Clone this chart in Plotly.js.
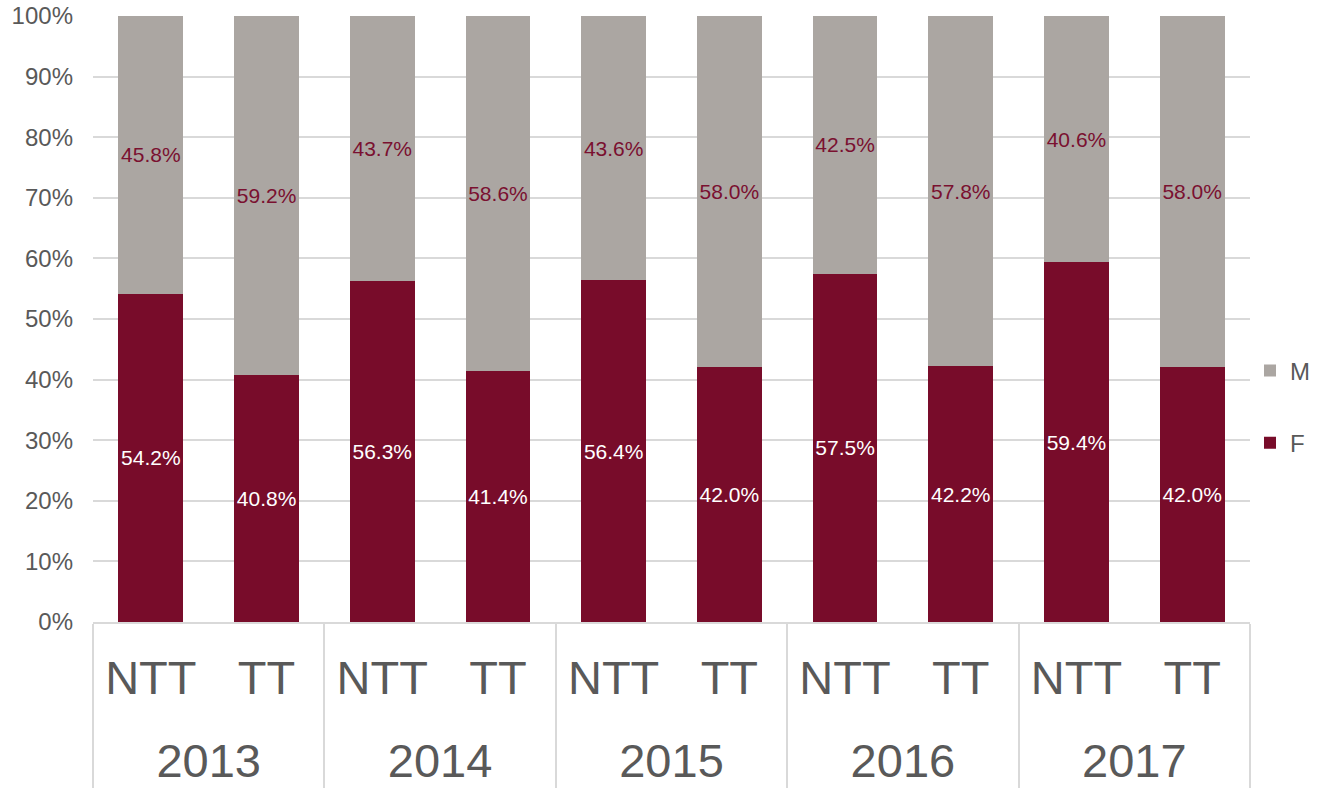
<!DOCTYPE html>
<html>
<head>
<meta charset="utf-8">
<script src="https://cdn.plot.ly/plotly-3.0.1.min.js"></script>
<style>html,body{margin:0;padding:0;background:#fff;}#chart{width:1331px;height:788px;}</style>
</head>
<body>
<div id="chart"></div>
<script>
const years = ['2013','2013','2014','2014','2015','2015','2016','2016','2017','2017'];
const groups = ['NTT','TT','NTT','TT','NTT','TT','NTT','TT','NTT','TT'];
const F = [54.2, 40.8, 56.3, 41.4, 56.4, 42.0, 57.5, 42.2, 59.4, 42.0];
const M = [45.8, 59.2, 43.7, 58.6, 43.6, 58.0, 42.5, 57.8, 40.6, 58.0];

const font = 'Liberation Sans, Arial, sans-serif';
const big = s => "<span style='font-size:47px'>" + s + "</span>";
const x = [years.map(big), groups.map(g => big(g) + '<br>&nbsp;')];
const traces = [
  {type:'bar', name:'F', x:x, y:F.map(v=>v/100), text:F.map(v=>v.toFixed(1)+'%'),
   textposition:'inside', insidetextanchor:'middle', textangle:0, constraintext:'none',
   textfont:{family:font,size:21,color:'#ffffff'},
   marker:{color:'#780C2A'}, hoverinfo:'y', legendgroup:'f', legendrank:2},
  {type:'bar', name:'M', x:x, y:M.map(v=>v/100), text:M.map(v=>v.toFixed(1)+'%'),
   textposition:'inside', insidetextanchor:'middle', textangle:0, constraintext:'none',
   textfont:{family:font,size:21,color:'#7A1030'},
   marker:{color:'#ABA6A2'}, hoverinfo:'y', legendgroup:'m', legendrank:1}
];
const layout = {
  width:1331, height:788,
  margin:{l:93, r:81, t:16, b:166},
  barmode:'stack', bargap:0.44,
  paper_bgcolor:'#fff', plot_bgcolor:'#fff',
  font:{family:font, color:'#595959'},
  showlegend:true,
  legend:{x:1.0, y:0.355, xanchor:'left', yanchor:'middle', traceorder:'grouped', tracegroupgap:38,
          font:{size:24, color:'#595959'}, itemwidth:30},
  yaxis:{range:[0,1], dtick:0.1, tickformat:'.0%', gridcolor:'#D9D9D9', gridwidth:1.5,
         tickfont:{size:24,color:'#595959'}, zeroline:false, ticks:'', ticklabelstandoff:19, automargin:false},
  xaxis:{type:'multicategory', tickfont:{size:40,color:'#595959'}, showdividers:true,
         dividercolor:'#D9D9D9', dividerwidth:1.5, showline:true, linecolor:'#D9D9D9', linewidth:1.5,
         ticks:'', ticklabelstandoff:22, automargin:false}
};
Plotly.newPlot('chart', traces, layout, {displayModeBar:false});
</script>
</body>
</html>
